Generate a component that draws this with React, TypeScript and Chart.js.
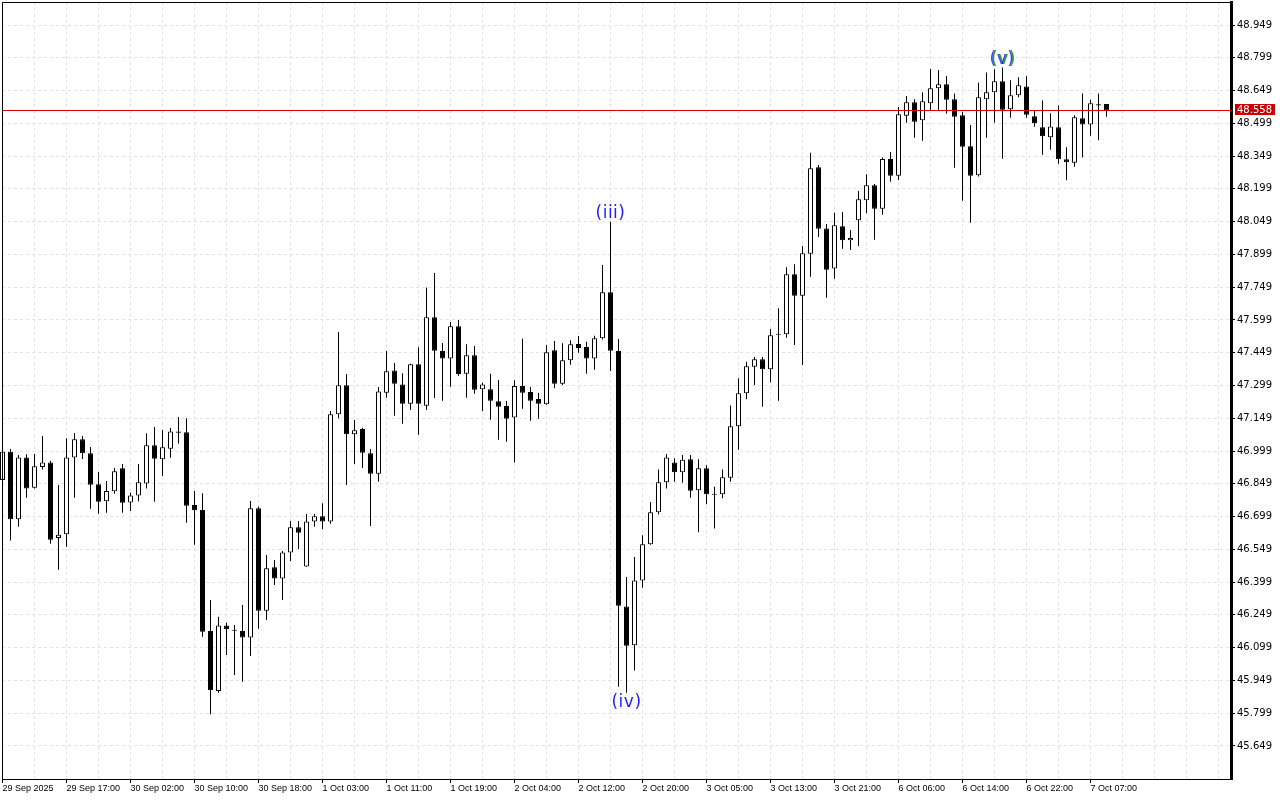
import React, { useEffect, useRef } from 'react';
import { Chart, registerables } from 'chart.js';

Chart.register(...registerables);

const xLabels = [
  '29 Sep 2025', '29 Sep 17:00', '30 Sep 02:00', '30 Sep 10:00', '30 Sep 18:00',
  '1 Oct 03:00', '1 Oct 11:00', '1 Oct 19:00', '2 Oct 04:00', '2 Oct 12:00',
  '2 Oct 20:00', '3 Oct 05:00', '3 Oct 13:00', '3 Oct 21:00', '6 Oct 06:00',
  '6 Oct 14:00', '6 Oct 22:00', '7 Oct 07:00',
];

const yTickValues = [
  45.649, 45.799, 45.949, 46.099, 46.249, 46.399, 46.549, 46.699, 46.849, 46.999,
  47.149, 47.299, 47.449, 47.599, 47.749, 47.899, 48.049, 48.199, 48.349, 48.499,
  48.649, 48.799, 48.949,
];

const opens = [
  46.866, 46.996, 46.687, 46.970, 46.831, 46.926, 46.947, 46.601, 46.618, 46.970,
  47.053, 46.989, 46.847, 46.769, 46.815, 46.920, 46.764, 46.795, 46.851, 47.025,
  46.961, 47.010, 47.089, 47.085, 46.752, 46.729, 46.175, 45.901, 46.201, 46.180,
  46.175, 46.146, 46.737, 46.268, 46.467, 46.416, 46.535, 46.650, 46.471, 46.677,
  46.700, 46.676, 47.167, 47.300, 47.076, 47.100, 46.989, 46.895, 47.266, 47.368,
  47.304, 47.216, 47.396, 47.206, 47.611, 47.457, 47.422, 47.570, 47.353, 47.437,
  47.282, 47.282, 47.227, 47.205, 47.152, 47.297, 47.269, 47.237, 47.213, 47.460,
  47.307, 47.414, 47.489, 47.475, 47.422, 47.515, 47.726, 47.457, 46.288, 46.110,
  46.407, 46.572, 46.719, 46.856, 46.946, 46.902, 46.961, 46.819, 46.920, 46.802,
  46.801, 46.877, 47.112, 47.263, 47.385, 47.419, 47.373, 47.535, 47.533, 47.808,
  47.710, 47.902, 48.298, 48.018, 47.835, 48.028, 47.964, 48.055, 48.147, 48.215,
  48.108, 48.336, 48.259, 48.534, 48.595, 48.513, 48.591, 48.659, 48.678, 48.609,
  48.536, 48.394, 48.261, 48.609, 48.641, 48.691, 48.563, 48.627, 48.668, 48.531,
  48.481, 48.435, 48.481, 48.334, 48.319, 48.522, 48.494, 48.586, 48.587,
];

const highs = [
  47.013, 47.008, 46.981, 46.984, 46.985, 47.068, 46.955, 46.844, 47.057, 47.082,
  47.068, 47.017, 46.903, 46.862, 46.921, 46.940, 46.808, 46.940, 47.080, 47.109,
  47.095, 47.104, 47.155, 47.149, 46.816, 46.806, 46.317, 46.241, 46.213, 46.203,
  46.294, 46.770, 46.744, 46.523, 46.500, 46.541, 46.679, 46.679, 46.711, 46.711,
  46.760, 47.182, 47.544, 47.352, 47.141, 47.106, 47.008, 47.292, 47.457, 47.402,
  47.355, 47.398, 47.474, 47.748, 47.814, 47.493, 47.590, 47.599, 47.488, 47.480,
  47.312, 47.353, 47.324, 47.228, 47.323, 47.513, 47.292, 47.266, 47.484, 47.503,
  47.492, 47.506, 47.525, 47.499, 47.527, 47.850, 48.049, 47.512, 46.422, 46.514,
  46.613, 46.766, 46.915, 46.985, 46.966, 46.981, 46.981, 46.961, 46.934, 46.836,
  46.915, 47.208, 47.332, 47.408, 47.429, 47.429, 47.558, 47.652, 47.840, 47.854,
  47.937, 48.364, 48.308, 48.038, 48.090, 48.093, 48.011, 48.189, 48.266, 48.221,
  48.343, 48.368, 48.574, 48.624, 48.609, 48.641, 48.748, 48.743, 48.716, 48.636,
  48.552, 48.491, 48.685, 48.732, 48.746, 48.755, 48.696, 48.710, 48.716, 48.555,
  48.604, 48.545, 48.581, 48.389, 48.536, 48.636, 48.607, 48.636, 48.587,
];

const lows = [
  46.844, 46.589, 46.653, 46.785, 46.827, 46.914, 46.575, 46.456, 46.561, 46.785,
  46.963, 46.735, 46.712, 46.717, 46.804, 46.717, 46.725, 46.769, 46.827, 46.767,
  46.885, 46.968, 47.033, 46.671, 46.570, 46.149, 45.794, 45.893, 46.065, 45.974,
  45.943, 46.061, 46.186, 46.226, 46.386, 46.317, 46.496, 46.551, 46.469, 46.653,
  46.641, 46.666, 47.149, 46.844, 46.940, 46.921, 46.656, 46.859, 47.243, 47.161,
  47.124, 47.187, 47.074, 47.187, 47.242, 47.229, 47.293, 47.344, 47.243, 47.261,
  47.182, 47.142, 47.051, 47.042, 46.946, 47.193, 47.138, 47.147, 47.211, 47.286,
  47.301, 47.394, 47.449, 47.353, 47.371, 47.509, 47.365, 45.920, 45.893, 45.994,
  46.373, 46.570, 46.709, 46.828, 46.859, 46.854, 46.785, 46.627, 46.755, 46.645,
  46.783, 46.859, 47.005, 47.236, 47.301, 47.202, 47.314, 47.229, 47.518, 47.484,
  47.393, 47.797, 47.979, 47.701, 47.788, 47.925, 47.919, 47.937, 48.087, 47.966,
  48.081, 48.232, 48.240, 48.502, 48.433, 48.419, 48.557, 48.557, 48.543, 48.296,
  48.145, 48.044, 48.256, 48.433, 48.502, 48.337, 48.525, 48.618, 48.525, 48.483,
  48.355, 48.378, 48.314, 48.238, 48.300, 48.342, 48.442, 48.421, 48.529,
];

const closes = [
  46.996, 46.687, 46.970, 46.828, 46.929, 46.947, 46.593, 46.616, 46.970, 47.053,
  46.989, 46.845, 46.767, 46.816, 46.906, 46.762, 46.796, 46.856, 47.025, 46.964,
  47.016, 47.089, 47.083, 46.749, 46.728, 46.172, 45.905, 46.201, 46.183, 46.177,
  46.145, 46.737, 46.268, 46.462, 46.416, 46.535, 46.650, 46.625, 46.677, 46.700,
  46.676, 47.167, 47.300, 47.076, 47.094, 46.991, 46.895, 47.272, 47.364, 47.307,
  47.216, 47.396, 47.216, 47.611, 47.458, 47.422, 47.570, 47.352, 47.437, 47.280,
  47.304, 47.229, 47.202, 47.147, 47.297, 47.266, 47.229, 47.216, 47.451, 47.307,
  47.414, 47.488, 47.471, 47.422, 47.515, 47.726, 47.458, 46.291, 46.108, 46.407,
  46.572, 46.719, 46.856, 46.970, 46.902, 46.959, 46.817, 46.920, 46.801, 46.799,
  46.879, 47.112, 47.263, 47.387, 47.419, 47.373, 47.529, 47.531, 47.808, 47.710,
  47.904, 48.293, 48.017, 47.829, 48.032, 47.964, 47.974, 48.151, 48.215, 48.108,
  48.336, 48.259, 48.540, 48.595, 48.506, 48.600, 48.659, 48.678, 48.607, 48.529,
  48.392, 48.259, 48.618, 48.641, 48.691, 48.561, 48.627, 48.673, 48.538, 48.499,
  48.440, 48.485, 48.334, 48.321, 48.527, 48.494, 48.591, 48.581, 48.558,
];

const lastPrice = 48.558;

const waveIndex = [76, 78, 125];
const wavePrice = [48.049, 45.893, 48.755];
const waveText = ['(iii)', '(iv)', '(v)'];
const waveOffset = [-8, 10, -8];

const X_FONT = { family: 'Liberation Sans', size: 9 };
const Y_FONT = { family: 'DejaVu Sans', size: 10 };
const GRID_COLOR = '#e3e3e3';

export default function App() {
  const ref = useRef<HTMLCanvasElement>(null);

  useEffect(() => {
    const canvas = ref.current;
    if (!canvas) return;
    const idx = opens.map((_, i) => i);
    const bodies = idx.map((i) => ({
      x: i,
      y: [Math.min(opens[i], closes[i]), Math.max(opens[i], closes[i])],
    }));
    const wicks = idx.map((i) => ({ x: i, y: [lows[i], highs[i]] }));
    const bodyFill = idx.map((i) => (closes[i] >= opens[i] ? '#ffffff' : '#000000'));

    const overlay = {
      id: 'overlay',
      afterDatasetsDraw(chart: any) {
        const ctx = chart.ctx;
        const { left, right } = chart.chartArea;
        const xs = chart.scales.x;
        const ys = chart.scales.y;
        const py = Math.round(ys.getPixelForValue(lastPrice)) + 0.5;
        ctx.save();
        ctx.strokeStyle = '#d40000';
        ctx.lineWidth = 1;
        ctx.beginPath();
        ctx.moveTo(left, py);
        ctx.lineTo(right, py);
        ctx.stroke();
        ctx.font = '17px "DejaVu Sans"';
        try { (ctx as any).letterSpacing = '0.5px'; } catch (e) { /* ignore */ }
        ctx.textAlign = 'center';
        ctx.textBaseline = 'middle';
        waveText.forEach((t, i) => {
          const x = xs.getPixelForValue(waveIndex[i]);
          const y = ys.getPixelForValue(wavePrice[i]) + waveOffset[i];
          if (t === '(v)') {
            ctx.fillStyle = '#1fa51f';
            ctx.fillText(t, x + 1, y);
            ctx.fillStyle = 'rgba(30,30,255,0.85)';
            ctx.fillText(t, x - 0.5, y);
          } else {
            ctx.fillStyle = '#1e1eff';
            ctx.fillText(t, x, y);
          }
        });
        ctx.restore();
      },
      afterDraw(chart: any) {
        const ctx = chart.ctx;
        const { left, top, right, bottom } = chart.chartArea;
        const ys = chart.scales.y;
        ctx.save();
        ctx.strokeStyle = '#000';
        ctx.lineWidth = 1;
        ctx.beginPath();
        ctx.moveTo(left + 0.5, bottom);
        ctx.lineTo(left + 0.5, top + 0.5);
        ctx.lineTo(right, top + 0.5);
        ctx.stroke();
        const py = Math.round(ys.getPixelForValue(lastPrice));
        ctx.fillStyle = '#cc0000';
        ctx.fillRect(right + 4, py - 6, 40, 11);
        ctx.fillStyle = '#ffffff';
        ctx.font = '10px "DejaVu Sans"';
        ctx.textAlign = 'left';
        ctx.textBaseline = 'middle';
        ctx.fillText(lastPrice.toFixed(3), right + 6, py);
        ctx.restore();
      },
    };

    const chart = new Chart(canvas, {
      type: 'bar',
      data: {
        datasets: [
          {
            label: 'body',
            data: bodies as any,
            backgroundColor: bodyFill,
            borderColor: '#000000',
            borderWidth: 1,
            borderSkipped: false,
            inflateAmount: 0,
            maxBarThickness: 5,
            minBarLength: 1,
            grouped: false,
            clip: false as any,
          },
          {
            label: 'wick',
            data: wicks as any,
            backgroundColor: '#000000',
            borderWidth: 0,
            inflateAmount: 0,
            maxBarThickness: 1,
            grouped: false,
            clip: false as any,
          },
        ],
      },
      options: {
        responsive: false,
        animation: false,
        events: [],
        layout: { padding: { left: 2, top: 2, right: 0, bottom: 0 } },
        plugins: {
          legend: { display: false },
          tooltip: { enabled: false },
          title: { display: false },
        },
        scales: {
          x: {
            type: 'linear',
            position: 'bottom',
            offset: false,
            min: -0.0625,
            max: 153.5625,
            afterBuildTicks: (s: any) => {
              const t = [];
              for (let v = 0; v <= 152; v += 4) t.push({ value: v });
              s.ticks = t;
            },
            afterFit: (s: any) => {
              s.height = 21;
              s.paddingLeft = 0;
              s.paddingRight = 0;
              s.paddingTop = 0;
              s.paddingBottom = 0;
            },
            ticks: {
              autoSkip: false,
              maxRotation: 0,
              minRotation: 0,
              align: 'start',
              padding: 0,
              color: '#000',
              font: X_FONT,
              callback: (v: any) => {
                const n = Number(v);
                return n % 8 === 0 && xLabels[n / 8] !== undefined ? xLabels[n / 8] : '';
              },
            },
            grid: {
              offset: false,
              color: GRID_COLOR,
              lineWidth: 1,
              tickLength: 4,
              tickColor: (c: any) => {
                const n = c.tick ? c.tick.value : -1;
                return n % 8 === 0 && xLabels[n / 8] !== undefined ? '#000' : 'rgba(0,0,0,0)';
              },
            },
            border: { color: '#000', width: 1, dash: [3, 3] },
          },
          y: {
            type: 'linear',
            position: 'right',
            min: 45.4979,
            max: 49.0543,
            afterBuildTicks: (s: any) => {
              s.ticks = yTickValues.map((v) => ({ value: v }));
            },
            afterFit: (s: any) => {
              s.width = 49;
              s.paddingLeft = 0;
              s.paddingRight = 0;
              s.paddingTop = 0;
              s.paddingBottom = 0;
            },
            ticks: {
              padding: 2,
              color: '#000',
              font: Y_FONT,
              callback: (v: any) => Number(v).toFixed(3),
            },
            grid: {
              color: GRID_COLOR,
              lineWidth: 1,
              tickLength: 4,
              tickColor: '#000',
            },
            border: { color: '#000', width: 3, dash: [3, 3] },
          },
        },
      } as any,
      plugins: [overlay],
    });

    return () => chart.destroy();
  }, []);

  return (
    <div style={{ position: 'fixed', left: 0, top: 0, width: 1280, height: 800, background: '#ffffff' }}>
      <canvas ref={ref} width={1280} height={800} style={{ display: 'block', width: 1280, height: 800 }} />
    </div>
  );
}
